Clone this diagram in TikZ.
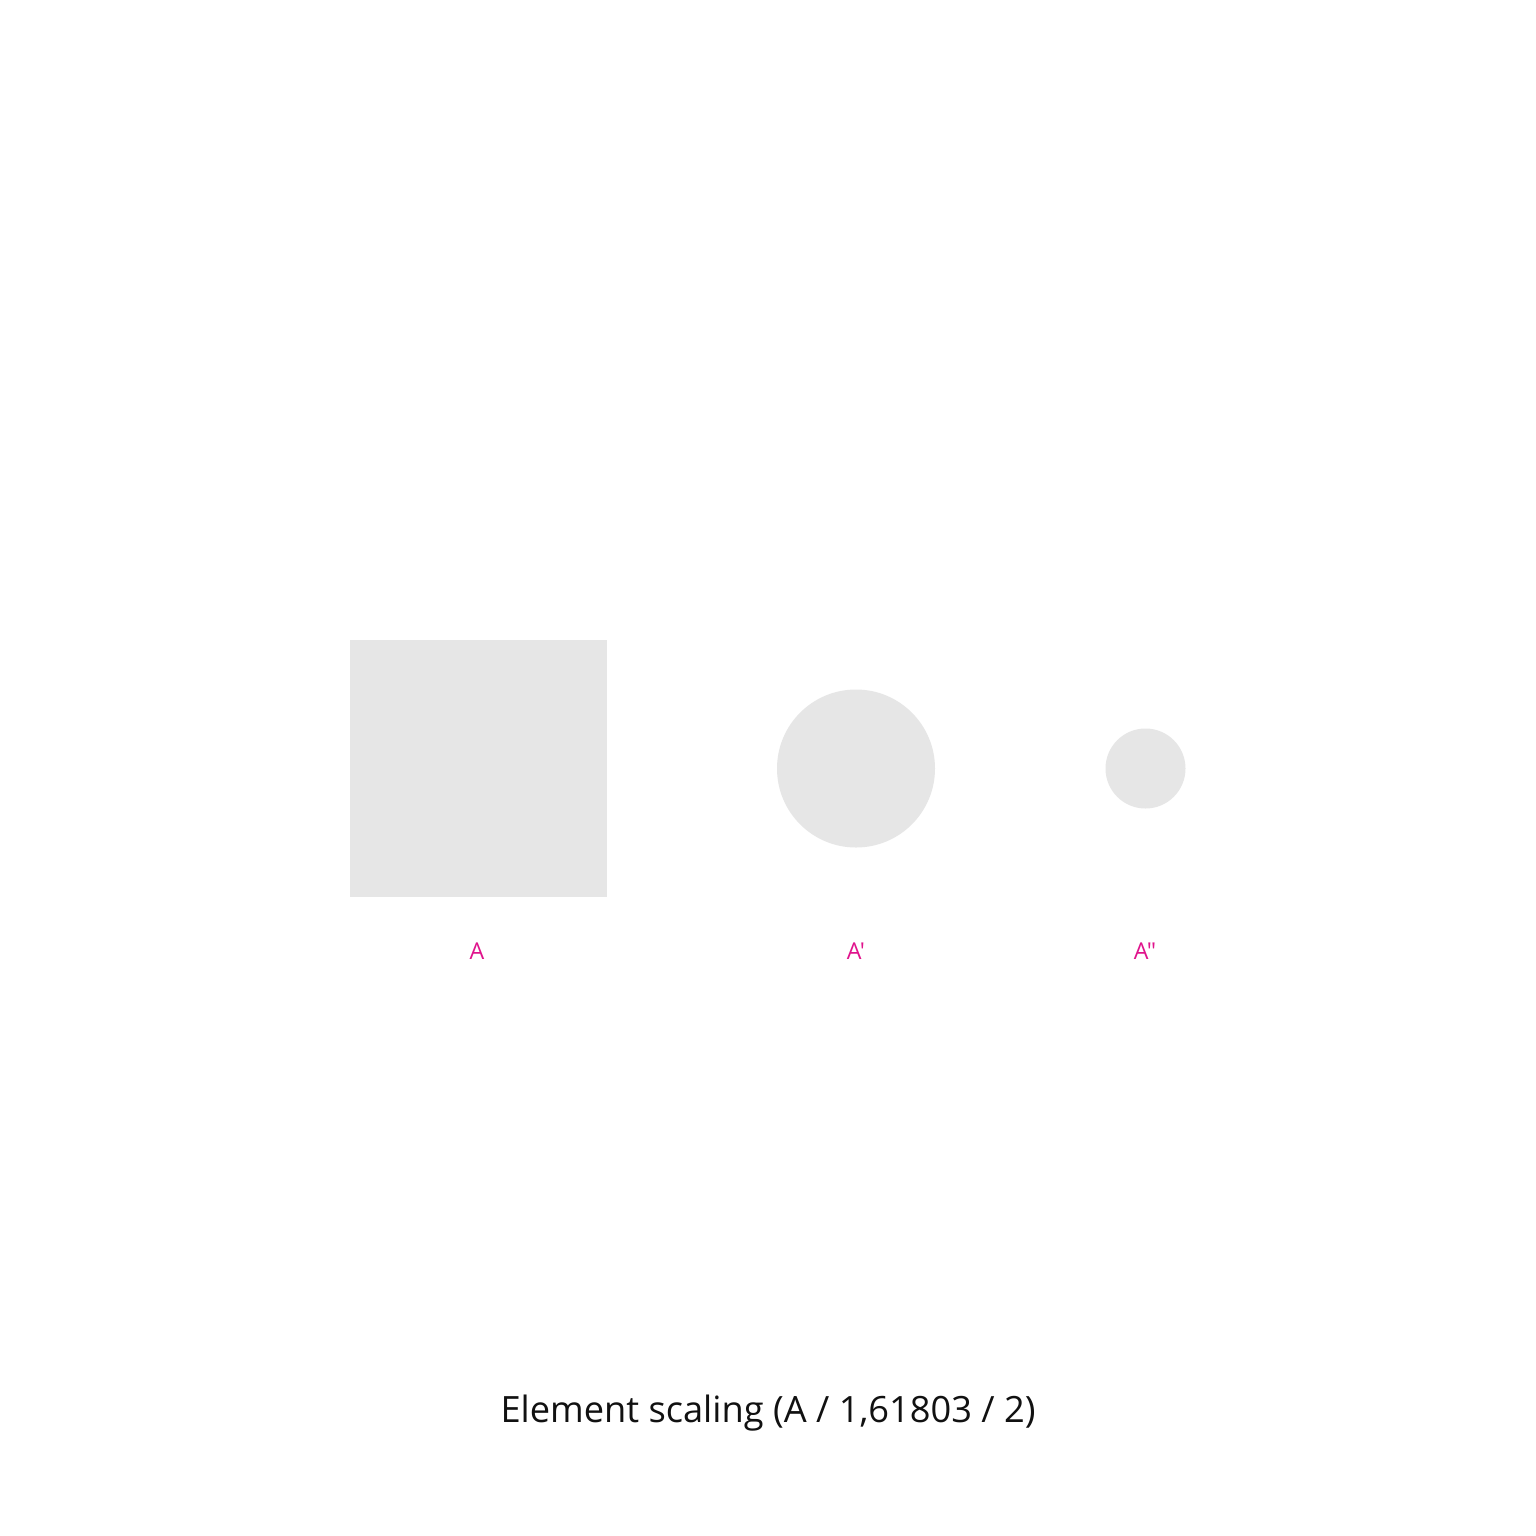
\documentclass[tikz,border=0pt]{standalone}
\usepackage{fontspec}
\setmainfont{Open Sans}
\newfontfamily\labfont{Open Sans}
\usepackage{xcolor}
\usepackage{tikz}
\usetikzlibrary{calc}
\definecolor{shape}{HTML}{E6E6E6}
\definecolor{magenta}{HTML}{E0138C}
\definecolor{ink}{HTML}{111111}
\tikzset{
  elem/.style={fill=shape, draw=none},
  labm/.style={text=magenta, font=\labfont\fontsize{6.6}{7.5}\selectfont},
  title/.style={text=ink, font=\fontsize{10.3}{12}\selectfont}
}

\begin{document}
\begin{tikzpicture}[x=0.01cm, y=-0.01cm]
  \useasboundingbox[fill=white] (0,0) rectangle (1536,1536);

  \coordinate (Asq) at (478.5,768.5);
  \coordinate (A1) at (856,768.5);
  \coordinate (A2) at (1145.5,768.5);

  \fill[elem] ($(Asq)+(-128.5,-128.5)$) rectangle ($(Asq)+(128.5,128.5)$);
  \fill[elem] (A1) circle[radius=79];
  \fill[elem] (A2) circle[radius=40];

  \node[labm] (la) at (477,951) {A};
  \node[labm] (lb) at (856,951) {A'};
  \node[labm] (lc) at (1145,951) {A"};

  \node[title] (cap) at (768,1413) {Element scaling (A / 1,61803 / 2)};
\end{tikzpicture}
\end{document}
